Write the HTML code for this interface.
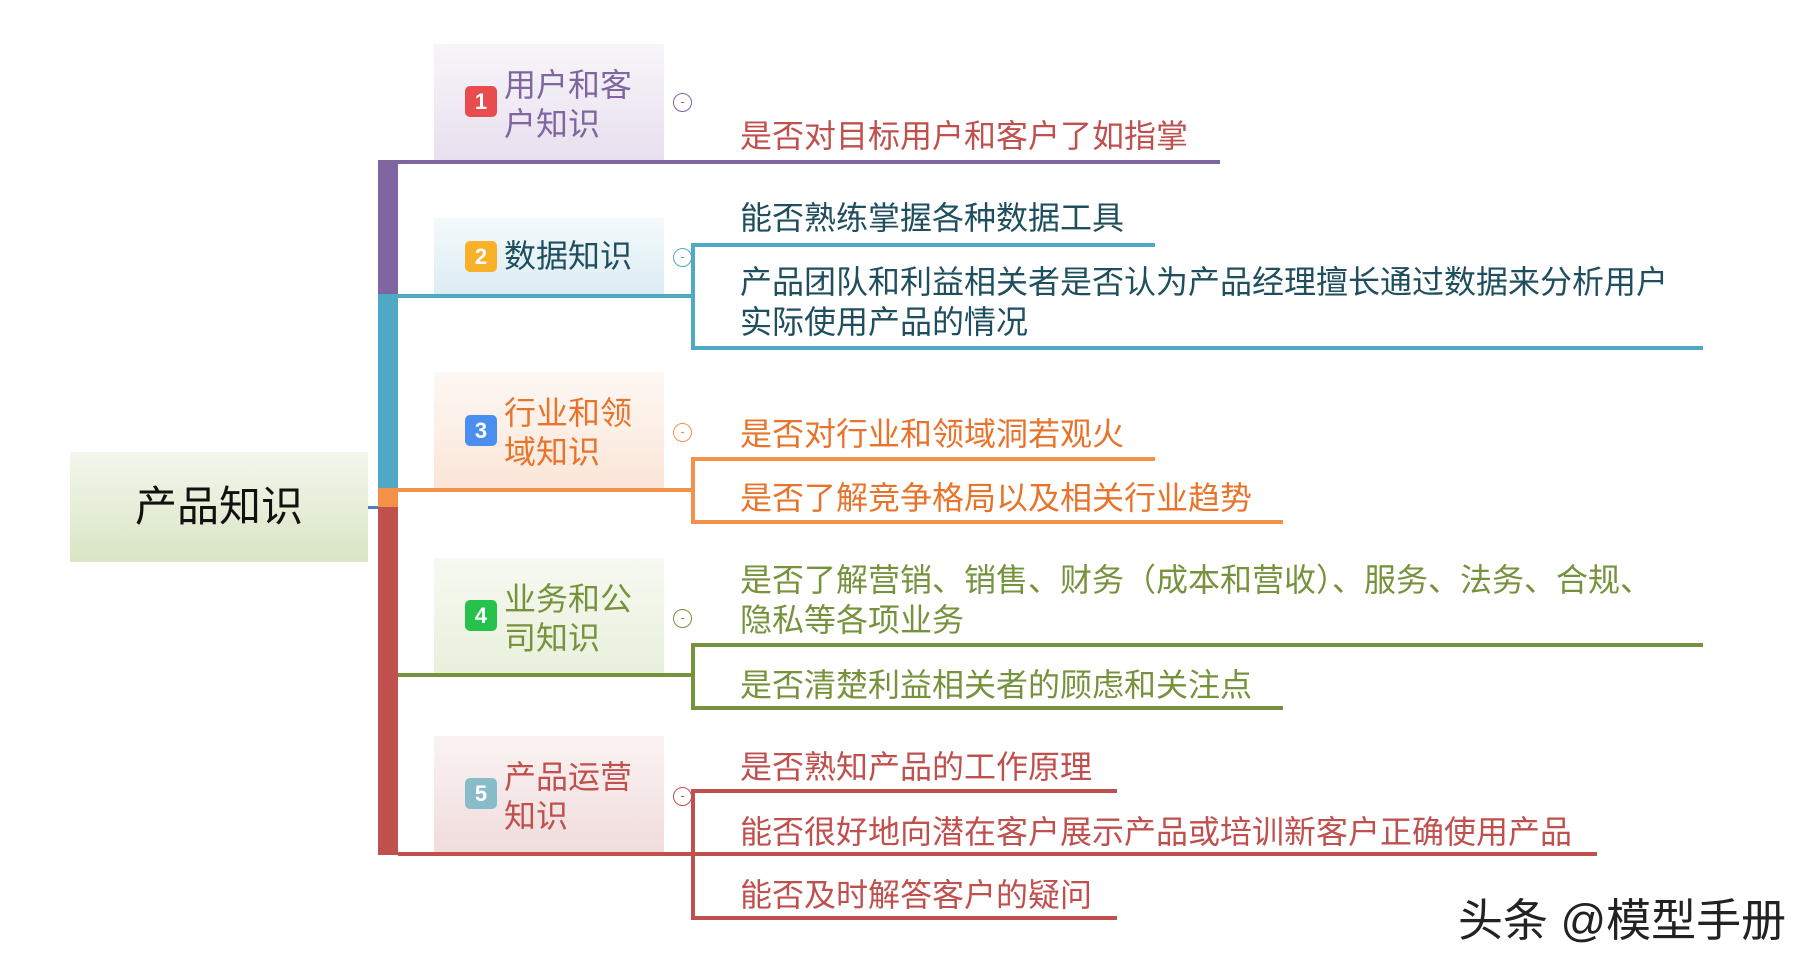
<!DOCTYPE html>
<html><head><meta charset="utf-8"><style>
body{margin:0;width:1820px;height:972px;background:#fff;position:relative;overflow:hidden;font-family:"Liberation Sans","Noto Sans CJK SC",sans-serif}
div{position:absolute}
.t{font-size:32px;line-height:40px;white-space:nowrap}
.box{left:434px;width:230px}
.badge{left:465px;width:32px;height:31px;border-radius:5px;color:#fff;font-size:22px;font-weight:bold;line-height:31px;text-align:center}
.lab{left:504px;font-size:32px;line-height:39px;white-space:nowrap}
.tg{left:673px;width:17px;height:17px;border:1.5px solid;border-radius:50%;font-size:13px;line-height:16px;text-align:center}
</style></head><body>
<div style="left:70px;top:452px;width:298px;height:110px;background:linear-gradient(#f3f6ec,#d9e6c4)"></div>
<div style="left:70px;top:482px;width:298px;text-align:center;font-size:42px;line-height:50px;color:#111">产品知识</div>
<div style="left:368px;top:506px;width:20px;height:3px;background:#4f81bd"></div>

<div style="left:378px;top:160px;width:20px;height:136px;background:#7f66a0"></div>
<div style="left:378px;top:294px;width:20px;height:196px;background:#4fa8c4"></div>
<div style="left:378px;top:488px;width:20px;height:19px;background:#f39149"></div>
<div style="left:378px;top:507px;width:20px;height:348px;background:#c0504d"></div>

<div class="box" style="top:44px;height:116px;background:linear-gradient(#f7f5f9,#e8e0ee)"></div>
<div class="badge" style="top:86px;background:#e84c4c">1</div>
<div class="lab" style="top:66px;color:#7f66a0">用户和客<br>户知识</div>
<div class="tg" style="top:93px;color:#7f66a0">-</div>
<div style="left:398px;top:160px;width:822px;height:4px;background:#7f66a0"></div>
<div class="t" style="left:740px;top:116px;color:#c0504d">是否对目标用户和客户了如指掌</div>

<div class="box" style="top:218px;height:76px;background:linear-gradient(#f4f9fb,#dcedf3)"></div>
<div class="badge" style="top:241px;background:#f9b12a">2</div>
<div class="lab" style="top:237px;color:#1f4e5f">数据知识</div>
<div class="tg" style="top:248px;color:#4fa8c4">-</div>
<div style="left:398px;top:294px;width:296px;height:4px;background:#4fa8c4"></div>
<div style="left:691px;top:243px;width:4px;height:107px;background:#4fa8c4"></div>
<div style="left:691px;top:243px;width:464px;height:4px;background:#4fa8c4"></div>
<div style="left:691px;top:346px;width:1012px;height:4px;background:#4fa8c4"></div>
<div class="t" style="left:740px;top:198px;color:#1f4e5f">能否熟练掌握各种数据工具</div>
<div class="t" style="left:740px;top:262px;color:#1f4e5f">产品团队和利益相关者是否认为产品经理擅长通过数据来分析用户<br>实际使用产品的情况</div>

<div class="box" style="top:372px;height:116px;background:linear-gradient(#fdf8f4,#fbe6d8)"></div>
<div class="badge" style="top:415px;background:#4a8ff0">3</div>
<div class="lab" style="top:394px;color:#e8742c">行业和领<br>域知识</div>
<div class="tg" style="top:423px;color:#f39149">-</div>
<div style="left:398px;top:488px;width:296px;height:4px;background:#f39149"></div>
<div style="left:691px;top:457px;width:4px;height:67px;background:#f39149"></div>
<div style="left:691px;top:457px;width:464px;height:4px;background:#f39149"></div>
<div style="left:691px;top:520px;width:592px;height:4px;background:#f39149"></div>
<div class="t" style="left:740px;top:414px;color:#e8742c">是否对行业和领域洞若观火</div>
<div class="t" style="left:740px;top:478px;color:#e8742c">是否了解竞争格局以及相关行业趋势</div>

<div class="box" style="top:558px;height:115px;background:linear-gradient(#f6f9f1,#e9f0dc)"></div>
<div class="badge" style="top:600px;background:#27c24c">4</div>
<div class="lab" style="top:580px;color:#76923c">业务和公<br>司知识</div>
<div class="tg" style="top:609px;color:#76923c">-</div>
<div style="left:398px;top:673px;width:296px;height:4px;background:#76923c"></div>
<div style="left:691px;top:643px;width:4px;height:67px;background:#76923c"></div>
<div style="left:691px;top:643px;width:1012px;height:4px;background:#76923c"></div>
<div style="left:691px;top:706px;width:592px;height:4px;background:#76923c"></div>
<div class="t" style="left:740px;top:560px;color:#76923c">是否了解营销、销售、财务（成本和营收）、服务、法务、合规、<br>隐私等各项业务</div>
<div class="t" style="left:740px;top:665px;color:#76923c">是否清楚利益相关者的顾虑和关注点</div>

<div class="box" style="top:736px;height:116px;background:linear-gradient(#faf3f3,#f1dcdc)"></div>
<div class="badge" style="top:778px;background:#88bcc8">5</div>
<div class="lab" style="top:758px;color:#c0504d">产品运营<br>知识</div>
<div class="tg" style="top:787px;color:#c0504d">-</div>
<div style="left:398px;top:852px;width:296px;height:4px;background:#c0504d"></div>
<div style="left:691px;top:789px;width:4px;height:131px;background:#c0504d"></div>
<div style="left:691px;top:789px;width:426px;height:4px;background:#c0504d"></div>
<div style="left:691px;top:852px;width:906px;height:4px;background:#c0504d"></div>
<div style="left:691px;top:916px;width:426px;height:4px;background:#c0504d"></div>
<div class="t" style="left:740px;top:747px;color:#c0504d">是否熟知产品的工作原理</div>
<div class="t" style="left:740px;top:812px;color:#c0504d">能否很好地向潜在客户展示产品或培训新客户正确使用产品</div>
<div class="t" style="left:740px;top:875px;color:#c0504d">能否及时解答客户的疑问</div>

<div style="left:1458px;top:896px;font-size:45px;line-height:50px;color:#222;white-space:nowrap">头条 @模型手册</div>
</body></html>
